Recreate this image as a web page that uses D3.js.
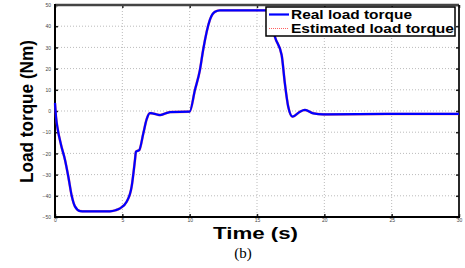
<!DOCTYPE html>
<html><head><meta charset="utf-8">
<script src="https://cdn.jsdelivr.net/npm/d3@7"></script>
<style>body{margin:0;background:#fff}svg{display:block}</style>
</head><body>
<svg id="c" width="465" height="268"></svg>
<script>
const timeS = [0,0.08,0.2,0.45,0.74,0.99,1.24,1.48,1.86,2.2,4.08,4.5,4.83,5.32,5.69,5.94,6.01,6.26,6.56,6.8,7.05,7.3,7.8,8.54,10.0,10.39,10.76,11.0,11.5,11.88,12.25,15.9,16.33,16.83,17.07,17.32,17.64,18.19,18.56,19.18,19.92,25,30];
const realTorque = [3.8,-3,-8.5,-16,-23,-31,-40,-45,-47.2,-47.3,-47.3,-46.8,-45.9,-42.8,-35.7,-23,-19.2,-18.4,-10.5,-4,-1.0,-1.2,-1.9,-0.5,-0.3,9.9,19.3,28.8,43,46.8,47.5,47.5,35,26.4,13,2,-2.7,-0.3,0.5,-1.1,-1.6,-1.4,-1.4];
const estTorque = [3.6,-3.1,-8.6,-16,-23,-31,-40,-45,-47.2,-47.3,-47.3,-46.8,-45.9,-42.8,-35.7,-23,-19.2,-18.4,-10.5,-4,-1.0,-1.2,-1.9,-0.5,-0.3,9.9,19.3,28.8,43,46.8,47.5,47.5,35,26.4,13,2,-2.7,-0.3,0.5,-1.1,-1.6,-1.4,-1.4];
const xTicks = [0,5,10,15,20,25,30];
const yTicks = [-50,-40,-30,-20,-10,0,10,20,30,40,50];
const legendLabels = ["Real load torque","Estimated load torque"];

const svg = d3.select("#c");
const L=55,R=459,T=5,B=217;
const x = d3.scaleLinear().domain([0,30]).range([L,R]);
const y = d3.scaleLinear().domain([-50,50]).range([B,T]);

// grid
svg.append("g").selectAll("line").data(xTicks.slice(1,-1)).join("line")
  .attr("x1",d=>x(d)).attr("x2",d=>x(d)).attr("y1",T).attr("y2",B)
  .attr("stroke","#bbb").attr("stroke-width",1).attr("stroke-dasharray","1,2");
svg.append("g").selectAll("line").data(yTicks.slice(1,-1)).join("line")
  .attr("y1",d=>y(d)).attr("y2",d=>y(d)).attr("x1",L).attr("x2",R)
  .attr("stroke","#bbb").attr("stroke-width",1).attr("stroke-dasharray","1,2");

// axes
const fmt = d3.format("d");
const ax = svg.append("g").attr("transform",`translate(0,${B})`)
  .call(d3.axisBottom(x).tickValues(xTicks).tickSize(-3).tickPadding(1.5).tickFormat(fmt));
const ay = svg.append("g").attr("transform",`translate(${L},0)`)
  .call(d3.axisLeft(y).tickValues(yTicks).tickSize(-3).tickPadding(4).tickFormat(fmt));
const axR = svg.append("g").attr("transform",`translate(${R},0)`)
  .call(d3.axisRight(y).tickValues(yTicks).tickSize(-3).tickFormat(""));
const axT = svg.append("g").attr("transform",`translate(0,${T})`)
  .call(d3.axisTop(x).tickValues(xTicks).tickSize(-3).tickFormat(""));
[ax,ay,axR,axT].forEach(g=>{
  g.selectAll("text").attr("font-family","Liberation Sans, Arial").attr("font-size","5px").attr("fill","#444");
  g.selectAll(".tick line").attr("stroke","#222").attr("stroke-width",1.5);
  g.select(".domain").remove();
});
// frame
svg.append("line").attr("x1",L).attr("x2",R).attr("y1",T).attr("y2",T).attr("stroke","#444").attr("stroke-width",2.5);
svg.append("line").attr("x1",R).attr("x2",R).attr("y1",T).attr("y2",B).attr("stroke","#111").attr("stroke-width",1.8);
svg.append("line").attr("x1",L).attr("x2",L).attr("y1",T-1).attr("y2",B+1).attr("stroke","#000").attr("stroke-width",2);
svg.append("line").attr("x1",L-1).attr("x2",R+1).attr("y1",B).attr("y2",B).attr("stroke","#000").attr("stroke-width",2);

// curves
const line = d3.line().curve(d3.curveMonotoneX);
svg.append("path").attr("d",line(timeS.map((t,i)=>[x(t),y(estTorque[i])])))
  .attr("fill","none").attr("stroke","#ff3030").attr("stroke-width",2.6).attr("opacity",0.6);
svg.append("path").attr("d",line(timeS.map((t,i)=>[x(t),y(realTorque[i])])))
  .attr("fill","none").attr("stroke","#0000ff").attr("stroke-width",2.2);

// legend
const lg = svg.append("g");
lg.append("rect").attr("x",266).attr("y",7).attr("width",189).attr("height",29)
  .attr("fill","#fff").attr("stroke","#000").attr("stroke-width",1.5);
lg.append("line").attr("x1",269).attr("x2",289).attr("y1",14.5).attr("y2",14.5).attr("stroke","#0000ff").attr("stroke-width",2.2);
lg.append("line").attr("x1",269).attr("x2",289).attr("y1",28.5).attr("y2",28.5).attr("stroke","#ff6060").attr("stroke-width",1).attr("stroke-dasharray","1,1");
const legendWidths = [121,163];
lg.selectAll("text").data(legendLabels).join("text")
  .attr("x",291).attr("y",(d,i)=>19+i*14)
  .attr("font-family","Liberation Sans, Arial").attr("font-weight","bold").attr("font-size","13.5px")
  .attr("textLength",(d,i)=>legendWidths[i]).attr("lengthAdjust","spacingAndGlyphs")
  .text(d=>d);

// axis labels
svg.append("text").attr("transform","translate(33,111.5) rotate(-90)").attr("text-anchor","middle")
  .attr("font-family","Liberation Sans, Arial").attr("font-weight","bold").attr("font-size","19px")
  .attr("textLength",143).attr("lengthAdjust","spacingAndGlyphs").text("Load torque (Nm)");
svg.append("text").attr("x",255.5).attr("y",238.5).attr("text-anchor","middle")
  .attr("font-family","Liberation Sans, Arial").attr("font-weight","bold").attr("font-size","16px")
  .attr("textLength",85).attr("lengthAdjust","spacingAndGlyphs").text("Time (s)");
svg.append("text").attr("x",243).attr("y",258).attr("text-anchor","middle")
  .attr("font-family","Liberation Serif, Times New Roman").attr("font-size","15px").text("(b)");
</script>
</body></html>
